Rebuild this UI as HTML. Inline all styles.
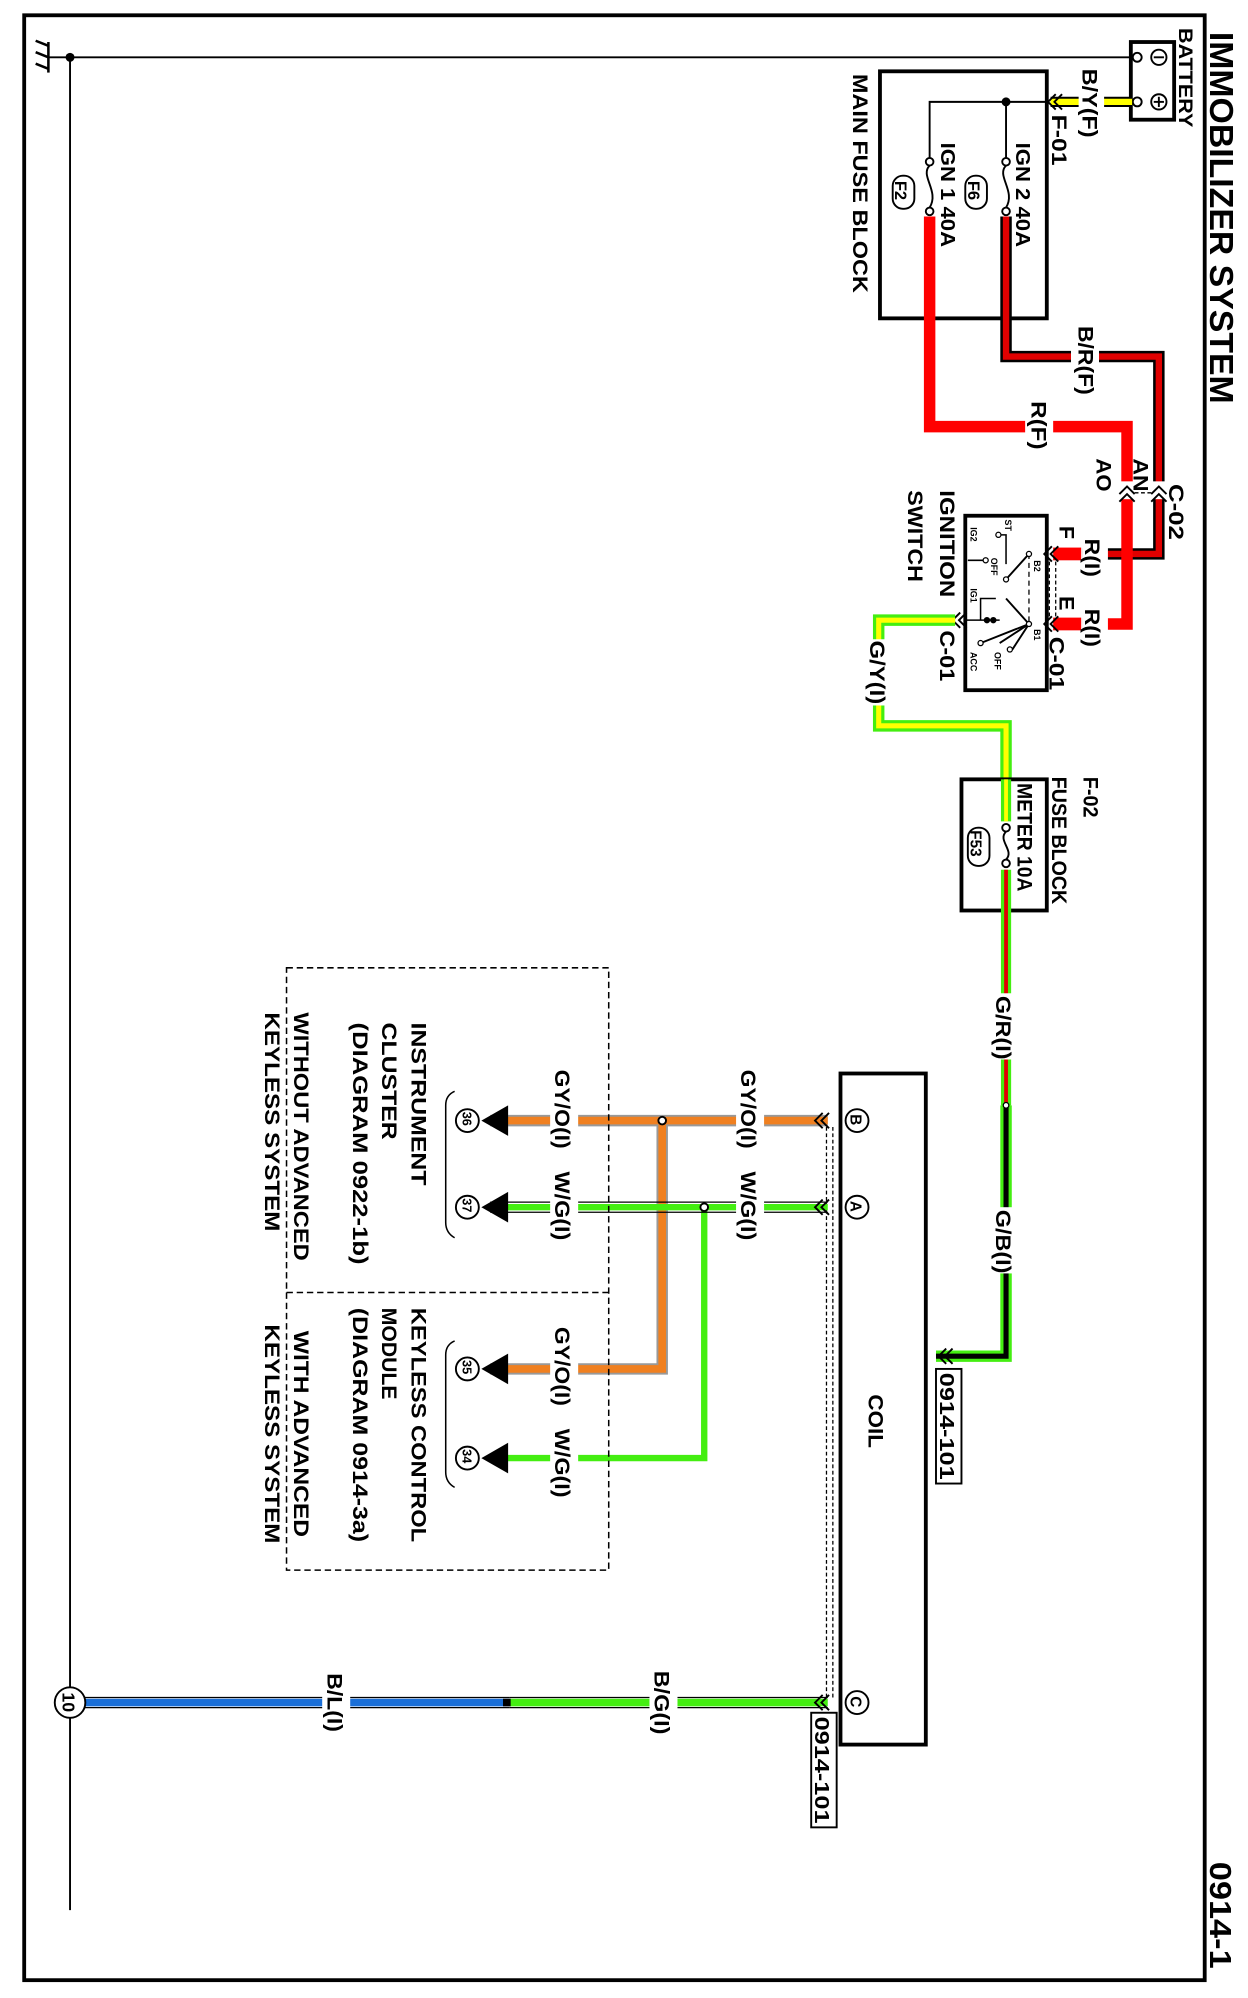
<!DOCTYPE html>
<html><head><meta charset="utf-8"><style>
html,body{margin:0;padding:0;background:#fff}
svg{display:block}
text{font-family:"Liberation Sans",Arial,sans-serif;font-weight:bold;fill:#000}
</style></head><body>
<svg width="1248" height="1998" viewBox="0 0 980 1569" preserveAspectRatio="none" xmlns="http://www.w3.org/2000/svg">
<rect x="0" y="0" width="980" height="1569" fill="#fff"/>
<rect x="19" y="12" width="927" height="1543" fill="none" stroke="#000" stroke-width="3"/>
<text transform="translate(950,25) rotate(90)" font-size="26" textLength="292" lengthAdjust="spacingAndGlyphs">IMMOBILIZER SYSTEM</text>
<text transform="translate(950,1462) rotate(90)" font-size="24" textLength="84" lengthAdjust="spacingAndGlyphs">0914-1</text>

<line x1="55" y1="45" x2="888" y2="45" stroke="#000" stroke-width="1.5"/>
<line x1="55" y1="45" x2="55" y2="1500" stroke="#000" stroke-width="1.5"/>
<circle cx="55" cy="45" r="3.5"/>
<line x1="38" y1="45" x2="55" y2="45" stroke="#000" stroke-width="1.5"/>
<line x1="38" y1="33" x2="38" y2="57" stroke="#000" stroke-width="2"/>
<path d="M38 36 L28 32 M38 45 L28 41 M38 54 L28 50" stroke="#000" stroke-width="2"/>

<rect x="888" y="33" width="34" height="61" fill="#fff" stroke="#000" stroke-width="3"/>
<circle cx="893" cy="45" r="3.5" fill="#fff" stroke="#000" stroke-width="1.5"/>
<circle cx="893" cy="80" r="3.5" fill="#fff" stroke="#000" stroke-width="1.5"/>
<circle cx="910" cy="45" r="6" fill="none" stroke="#000" stroke-width="1.5"/><line x1="906" y1="45" x2="914" y2="45" stroke="#000" stroke-width="1.5"/>
<circle cx="910" cy="80" r="6" fill="none" stroke="#000" stroke-width="1.5"/><line x1="906" y1="80" x2="914" y2="80" stroke="#000" stroke-width="1.5"/><line x1="910" y1="76" x2="910" y2="84" stroke="#000" stroke-width="1.5"/>
<text transform="translate(926,22) rotate(90)" font-size="15" textLength="78" lengthAdjust="spacingAndGlyphs">BATTERY</text>

<line x1="825" y1="80" x2="889" y2="80" stroke="#000" stroke-width="8"/>
<line x1="825" y1="80" x2="889" y2="80" stroke="#ffff00" stroke-width="5"/>
<rect x="847" y="70" width="20" height="20" fill="#fff"/>
<text transform="translate(850,54) rotate(90)" font-size="17" textLength="54" lengthAdjust="spacingAndGlyphs">B/Y(F)</text>
<text transform="translate(826,90) rotate(90)" font-size="17" textLength="40" lengthAdjust="spacingAndGlyphs">F-01</text>
<path d="M829 74 L823 80 L829 86 M834 74 L828 80 L834 86" fill="none" stroke="#000" stroke-width="1.5"/>

<rect x="691" y="56" width="131" height="194" fill="none" stroke="#000" stroke-width="3"/>
<text transform="translate(670,58) rotate(90)" font-size="17" textLength="172" lengthAdjust="spacingAndGlyphs">MAIN FUSE BLOCK</text>
<path d="M822 80 H730 V125 M790 80 V125" fill="none" stroke="#000" stroke-width="1.5"/>
<circle cx="790" cy="80" r="3.5"/>
<circle cx="790" cy="127" r="3" fill="#fff" stroke="#000" stroke-width="1.5"/>
<circle cx="790" cy="166" r="3" fill="#fff" stroke="#000" stroke-width="1.5"/>
<circle cx="730" cy="127" r="3" fill="#fff" stroke="#000" stroke-width="1.5"/>
<circle cx="730" cy="166" r="3" fill="#fff" stroke="#000" stroke-width="1.5"/>
<path d="M790 130 C782 138, 798 150, 790 163" fill="none" stroke="#000" stroke-width="1.5"/>
<path d="M730 130 C722 138, 738 150, 730 163" fill="none" stroke="#000" stroke-width="1.5"/>
<text transform="translate(798,112) rotate(90)" font-size="16" textLength="82" lengthAdjust="spacingAndGlyphs">IGN 2 40A</text>
<text transform="translate(739,112) rotate(90)" font-size="16" textLength="82" lengthAdjust="spacingAndGlyphs">IGN 1 40A</text>
<rect x="758" y="138" width="17" height="26" rx="8" fill="none" stroke="#000" stroke-width="1.5"/>
<text transform="translate(760,142) rotate(90)" font-size="13">F6</text>
<rect x="701" y="138" width="17" height="26" rx="8" fill="none" stroke="#000" stroke-width="1.5"/>
<text transform="translate(703,142) rotate(90)" font-size="13">F2</text>

<path d="M790 170 V280 H910 V435 H850" fill="none" stroke="#000" stroke-width="9"/>
<path d="M790 170 V280 H910 V435 H850" fill="none" stroke="#e00000" stroke-width="5"/>
<path d="M730 170 V335 H885 V490 H850" fill="none" stroke="#ff0000" stroke-width="9"/>
<rect x="827" y="430" width="22" height="10" fill="#ff0000"/>
<rect x="827" y="485" width="22" height="10" fill="#ff0000"/>
<rect x="841" y="253" width="22" height="50" fill="#fff"/>
<text transform="translate(847,256) rotate(90)" font-size="17" textLength="54" lengthAdjust="spacingAndGlyphs">B/R(F)</text>
<rect x="805" y="312" width="22" height="40" fill="#fff"/>
<text transform="translate(810,315) rotate(90)" font-size="17" textLength="38" lengthAdjust="spacingAndGlyphs">R(F)</text>
<rect x="862" y="378" width="60" height="14" fill="#fff"/>
<path d="M904 388 L910 382 L916 388 M904 394 L910 388 L916 394 M879 388 L885 382 L891 388 M879 394 L885 388 L891 394" fill="none" stroke="#000" stroke-width="1.5"/>
<line x1="891" y1="387" x2="904" y2="387" stroke="#000" stroke-width="1" stroke-dasharray="3,2"/>
<text transform="translate(918,380) rotate(90)" font-size="17" textLength="44" lengthAdjust="spacingAndGlyphs">C-02</text>
<text transform="translate(890,360) rotate(90)" font-size="17" textLength="26" lengthAdjust="spacingAndGlyphs">AN</text>
<text transform="translate(861,360) rotate(90)" font-size="17" textLength="26" lengthAdjust="spacingAndGlyphs">AO</text>
<rect x="850" y="428" width="20" height="70" fill="#fff"/>
<text transform="translate(852,423) rotate(90)" font-size="17" textLength="30" lengthAdjust="spacingAndGlyphs">R(I)</text>
<text transform="translate(852,478) rotate(90)" font-size="17" textLength="30" lengthAdjust="spacingAndGlyphs">R(I)</text>
<text transform="translate(832,413) rotate(90)" font-size="17">F</text>
<text transform="translate(832,468) rotate(90)" font-size="17">E</text>

<rect x="758" y="405" width="64" height="137" fill="none" stroke="#000" stroke-width="3"/>
<path d="M826 429 L820 435 L826 441 M831 429 L825 435 L831 441 M826 484 L820 490 L826 496 M831 484 L825 490 L831 496" fill="none" stroke="#000" stroke-width="1.5"/>
<line x1="824" y1="441" x2="824" y2="484" stroke="#000" stroke-width="1" stroke-dasharray="3,2"/>
<line x1="829" y1="441" x2="829" y2="484" stroke="#000" stroke-width="1" stroke-dasharray="3,2"/>
<line x1="808" y1="435" x2="808" y2="490" stroke="#000" stroke-width="1" stroke-dasharray="4,3"/>
<path d="M758 487 H785 M770 487 V470 H782 M790 443 V420 H784 M760 440 H774" fill="none" stroke="#000" stroke-width="1.2"/>
<path d="M808 435 L790 455 M808 490 L790 470 M808 490 L785 505 M808 490 L795 510 M808 490 L770 505" fill="none" stroke="#000" stroke-width="1.5"/>
<circle cx="808" cy="435" r="2" fill="#fff" stroke="#000"/><circle cx="808" cy="490" r="2" fill="#fff" stroke="#000"/>
<circle cx="784" cy="420" r="2" fill="#fff" stroke="#000"/><circle cx="774" cy="440" r="2" fill="#fff" stroke="#000"/>
<circle cx="790" cy="455" r="2" fill="#fff" stroke="#000"/><circle cx="775" cy="487" r="2.5"/><circle cx="780" cy="487" r="2.5"/>
<circle cx="793" cy="510" r="2" fill="#fff" stroke="#000"/><circle cx="770" cy="505" r="2" fill="#fff" stroke="#000"/>
<text transform="translate(812,440) rotate(90)" font-size="7">B2</text>
<text transform="translate(812,494) rotate(90)" font-size="7">B1</text>
<text transform="translate(789,408) rotate(90)" font-size="7">ST</text>
<text transform="translate(762,414) rotate(90)" font-size="7">IG2</text>
<text transform="translate(762,462) rotate(90)" font-size="7">IG1</text>
<text transform="translate(762,512) rotate(90)" font-size="7">ACC</text>
<text transform="translate(778,438) rotate(90)" font-size="7">OFF</text>
<text transform="translate(781,512) rotate(90)" font-size="7">OFF</text>
<text transform="translate(738,385) rotate(90)" font-size="17" textLength="84" lengthAdjust="spacingAndGlyphs">IGNITION</text>
<text transform="translate(713,385) rotate(90)" font-size="17" textLength="72" lengthAdjust="spacingAndGlyphs">SWITCH</text>
<text transform="translate(824,500) rotate(90)" font-size="17" textLength="42" lengthAdjust="spacingAndGlyphs">C-01</text>
<text transform="translate(738,495) rotate(90)" font-size="17" textLength="40" lengthAdjust="spacingAndGlyphs">C-01</text>
<path d="M754 481 L748 487 L754 493 M759 481 L753 487 L759 493" fill="none" stroke="#000" stroke-width="1.5"/>

<path d="M750 487 H690 V570 H790 V612" fill="none" stroke="#44ee11" stroke-width="9"/>
<path d="M750 487 H690 V570 H790 V612" fill="none" stroke="#ffff00" stroke-width="4"/>
<rect x="681" y="502" width="20" height="52" fill="#fff"/>
<text transform="translate(683,503) rotate(90)" font-size="17" textLength="50" lengthAdjust="spacingAndGlyphs">G/Y(I)</text>

<rect x="755" y="612" width="67" height="103" fill="none" stroke="#000" stroke-width="3"/>
<path d="M790 612 V645" stroke="#44ee11" stroke-width="8"/>
<path d="M790 612 V645" stroke="#ffff00" stroke-width="3"/>
<path d="M790 683 V715" stroke="#44ee11" stroke-width="8"/>
<path d="M790 683 V715" stroke="#e00000" stroke-width="3"/>
<circle cx="790" cy="650" r="3" fill="#fff" stroke="#000" stroke-width="1.5"/>
<circle cx="790" cy="678" r="3" fill="#fff" stroke="#000" stroke-width="1.5"/>
<path d="M790 653 C783 660, 797 668, 790 675" fill="none" stroke="#000" stroke-width="1.5"/>
<text transform="translate(799,615) rotate(90)" font-size="17" textLength="85" lengthAdjust="spacingAndGlyphs">METER 10A</text>
<rect x="760" y="650" width="17" height="30" rx="8" fill="none" stroke="#000" stroke-width="1.5"/>
<text transform="translate(762,652) rotate(90)" font-size="12">F53</text>
<text transform="translate(851,610) rotate(90)" font-size="17" textLength="32" lengthAdjust="spacingAndGlyphs">F-02</text>
<text transform="translate(826,610) rotate(90)" font-size="17" textLength="100" lengthAdjust="spacingAndGlyphs">FUSE BLOCK</text>

<path d="M790 715 V868" stroke="#44ee11" stroke-width="8"/>
<path d="M790 715 V868" stroke="#e00000" stroke-width="3"/>
<path d="M790 868 V1065 H735" fill="none" stroke="#44ee11" stroke-width="9"/>
<path d="M790 868 V1065 H735" fill="none" stroke="#000" stroke-width="4"/>
<circle cx="790" cy="868" r="2.2" fill="#fff" stroke="#000" stroke-width="1"/>
<rect x="780" y="780" width="20" height="52" fill="#fff"/>
<text transform="translate(782,782) rotate(90)" font-size="17" textLength="50" lengthAdjust="spacingAndGlyphs">G/R(I)</text>
<rect x="780" y="948" width="20" height="52" fill="#fff"/>
<text transform="translate(782,950) rotate(90)" font-size="17" textLength="50" lengthAdjust="spacingAndGlyphs">G/B(I)</text>
<path d="M743 1059 L737 1065 L743 1071 M748 1059 L742 1065 L748 1071" fill="none" stroke="#000" stroke-width="1.5"/>
<circle cx="717" cy="1065" r="9" fill="#fff" stroke="#000" stroke-width="1.5"/>
<text transform="translate(712,1060) rotate(90)" font-size="12">D</text>
<rect x="735" y="1075" width="20" height="90" fill="#fff" stroke="#000" stroke-width="1.5"/>
<text transform="translate(738,1078) rotate(90)" font-size="16" textLength="84" lengthAdjust="spacingAndGlyphs">0914-101</text>

<rect x="660" y="843" width="67" height="527" fill="#fff" stroke="#000" stroke-width="3"/>
<text transform="translate(682,1095) rotate(90)" font-size="17" textLength="42" lengthAdjust="spacingAndGlyphs">COIL</text>
<circle cx="673" cy="880" r="9" fill="#fff" stroke="#000" stroke-width="1.5"/>
<text transform="translate(668,875) rotate(90)" font-size="12">B</text>
<circle cx="673" cy="948" r="9" fill="#fff" stroke="#000" stroke-width="1.5"/>
<text transform="translate(668,943) rotate(90)" font-size="12">A</text>
<circle cx="673" cy="1337" r="9" fill="#fff" stroke="#000" stroke-width="1.5"/>
<text transform="translate(668,1332) rotate(90)" font-size="12">C</text>
<line x1="649" y1="885" x2="649" y2="1333" stroke="#000" stroke-width="1" stroke-dasharray="3,2"/>
<line x1="654" y1="885" x2="654" y2="1333" stroke="#000" stroke-width="1" stroke-dasharray="3,2"/>
<rect x="637" y="1345" width="20" height="90" fill="#fff" stroke="#000" stroke-width="1.5"/>
<text transform="translate(640,1348) rotate(90)" font-size="16" textLength="84" lengthAdjust="spacingAndGlyphs">0914-101</text>

<path d="M650 880 H385 M520 880 V1075 H385" fill="none" stroke="#999" stroke-width="9"/>
<path d="M650 880 H385 M520 880 V1075 H385" fill="none" stroke="#f08020" stroke-width="6"/>
<path d="M650 948 H385 M553 948 V1145 H385" fill="none" stroke="#44ee11" stroke-width="5"/>
<line x1="385" y1="952" x2="650" y2="952" stroke="#000" stroke-width="1"/>
<line x1="385" y1="944" x2="650" y2="944" stroke="#000" stroke-width="1"/>
<circle cx="520" cy="880" r="3" fill="#fff" stroke="#000" stroke-width="1.5"/>
<circle cx="553" cy="948" r="3" fill="#fff" stroke="#000" stroke-width="1.5"/>
<path d="M646 874 L640 880 L646 886 M651 874 L645 880 L651 886 M646 942 L640 948 L646 954 M651 942 L645 948 L651 954" fill="none" stroke="#000" stroke-width="1.5"/>
<rect x="578" y="838" width="22" height="130" fill="#fff"/>
<text transform="translate(582,840) rotate(90)" font-size="17" textLength="62" lengthAdjust="spacingAndGlyphs">GY/O(I)</text>
<text transform="translate(582,920) rotate(90)" font-size="17" textLength="54" lengthAdjust="spacingAndGlyphs">W/G(I)</text>
<rect x="432" y="838" width="22" height="130" fill="#fff"/>
<text transform="translate(436,840) rotate(90)" font-size="17" textLength="62" lengthAdjust="spacingAndGlyphs">GY/O(I)</text>
<text transform="translate(436,920) rotate(90)" font-size="17" textLength="54" lengthAdjust="spacingAndGlyphs">W/G(I)</text>
<rect x="432" y="1040" width="22" height="140" fill="#fff"/>
<text transform="translate(436,1042) rotate(90)" font-size="17" textLength="62" lengthAdjust="spacingAndGlyphs">GY/O(I)</text>
<text transform="translate(436,1122) rotate(90)" font-size="17" textLength="54" lengthAdjust="spacingAndGlyphs">W/G(I)</text>
<path d="M399 868 L378 880 L399 892 Z M399 936 L378 948 L399 960 Z M399 1063 L378 1075 L399 1087 Z M399 1133 L378 1145 L399 1157 Z"/>
<g fill="#fff" stroke="#000" stroke-width="1.5">
<circle cx="367" cy="880" r="9"/><circle cx="367" cy="948" r="9"/><circle cx="367" cy="1075" r="9"/><circle cx="367" cy="1145" r="9"/></g>
<text transform="translate(363,873) rotate(90)" font-size="10">36</text>
<text transform="translate(363,941) rotate(90)" font-size="10">37</text>
<text transform="translate(363,1068) rotate(90)" font-size="10">35</text>
<text transform="translate(363,1138) rotate(90)" font-size="10">34</text>
<path d="M357 857 Q350 860 350 868 V960 Q350 968 357 972 M357 1053 Q350 1056 350 1064 V1156 Q350 1164 357 1168" fill="none" stroke="#000" stroke-width="1.2"/>
<rect x="225" y="760" width="253" height="473" fill="none" stroke="#000" stroke-width="1.2" stroke-dasharray="5,3"/>
<line x1="225" y1="1015" x2="478" y2="1015" stroke="#000" stroke-width="1.2" stroke-dasharray="5,3"/>
<text transform="translate(323,803) rotate(90)" font-size="17" textLength="128" lengthAdjust="spacingAndGlyphs">INSTRUMENT</text>
<text transform="translate(300,803) rotate(90)" font-size="17" textLength="92" lengthAdjust="spacingAndGlyphs">CLUSTER</text>
<text transform="translate(277,803) rotate(90)" font-size="17" textLength="190" lengthAdjust="spacingAndGlyphs">(DIAGRAM 0922-1b)</text>
<text transform="translate(231,795) rotate(90)" font-size="17" textLength="195" lengthAdjust="spacingAndGlyphs">WITHOUT ADVANCED</text>
<text transform="translate(208,795) rotate(90)" font-size="17" textLength="172" lengthAdjust="spacingAndGlyphs">KEYLESS SYSTEM</text>
<text transform="translate(323,1027) rotate(90)" font-size="17" textLength="184" lengthAdjust="spacingAndGlyphs">KEYLESS CONTROL</text>
<text transform="translate(300,1027) rotate(90)" font-size="17" textLength="72" lengthAdjust="spacingAndGlyphs">MODULE</text>
<text transform="translate(277,1027) rotate(90)" font-size="17" textLength="184" lengthAdjust="spacingAndGlyphs">(DIAGRAM 0914-3a)</text>
<text transform="translate(231,1045) rotate(90)" font-size="17" textLength="162" lengthAdjust="spacingAndGlyphs">WITH ADVANCED</text>
<text transform="translate(208,1040) rotate(90)" font-size="17" textLength="172" lengthAdjust="spacingAndGlyphs">KEYLESS SYSTEM</text>

<path d="M650 1337 H400" stroke="#44ee11" stroke-width="6"/>
<path d="M650 1333 H400 M650 1341 H400" stroke="#000" stroke-width="1"/>
<path d="M400 1337 H66" stroke="#1a6fd8" stroke-width="6"/>
<path d="M400 1333 H66 M400 1341 H66" stroke="#000" stroke-width="1"/>
<rect x="395" y="1334" width="6" height="6" fill="#000"/>
<path d="M646 1331 L640 1337 L646 1343 M651 1331 L645 1337 L651 1343" fill="none" stroke="#000" stroke-width="1.5"/>
<rect x="510" y="1310" width="22" height="55" fill="#fff"/>
<text transform="translate(514,1312) rotate(90)" font-size="17" textLength="50" lengthAdjust="spacingAndGlyphs">B/G(I)</text>
<rect x="253" y="1312" width="22" height="52" fill="#fff"/>
<text transform="translate(257,1314) rotate(90)" font-size="17" textLength="46" lengthAdjust="spacingAndGlyphs">B/L(I)</text>
<circle cx="55" cy="1337" r="12" fill="#fff" stroke="#000" stroke-width="1.5"/>
<text transform="translate(49,1329) rotate(90)" font-size="14">10</text>
</svg>
</body></html>
